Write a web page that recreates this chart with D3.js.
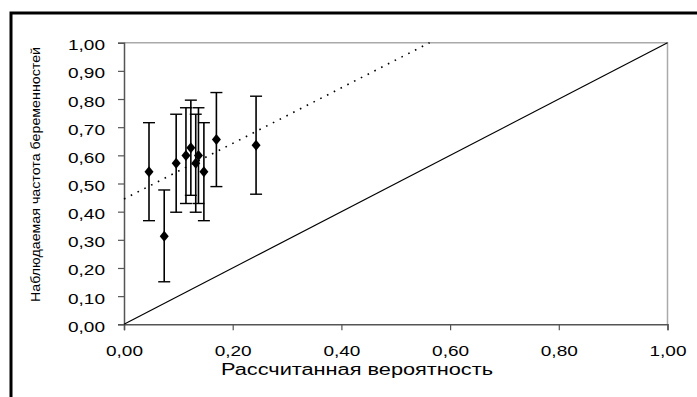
<!DOCTYPE html>
<html>
<head>
<meta charset="utf-8">
<script src="https://cdn.jsdelivr.net/npm/d3@7"></script>
<style>
  body { margin: 0; background: #fff; }
  svg { display: block; }
  text { font-family: "Liberation Sans", Arial, sans-serif; fill: #000; }
</style>
</head>
<body>
<svg width="697" height="397"></svg>
<script>
// **** data ****
var calcProb = [0.046, 0.074, 0.096, 0.114, 0.123, 0.132, 0.137, 0.147, 0.170, 0.243];
var observed = [0.542, 0.313, 0.572, 0.599, 0.627, 0.572, 0.599, 0.542, 0.656, 0.636];
var lowerCI  = [0.368, 0.151, 0.398, 0.429, 0.458, 0.398, 0.429, 0.368, 0.489, 0.462];
var upperCI  = [0.716, 0.477, 0.746, 0.769, 0.796, 0.746, 0.769, 0.716, 0.823, 0.810];
var tickValues = [0, 0.1, 0.2, 0.3, 0.4, 0.5, 0.6, 0.7, 0.8, 0.9, 1.0];
var xTickValues = [0, 0.2, 0.4, 0.6, 0.8, 1.0];
// trend line: intercept and slope
var trendIntercept = 0.445;
var trendSlope = 0.987;

var fmt = function(d) { return d3.format(".2f")(d).replace(".", ","); };

var xScale = d3.scaleLinear().domain([0, 1]).range([124, 667.5]);
var yScale = d3.scaleLinear().domain([0, 1]).range([324.3, 42.7]);

var svg = d3.select('svg');

// outer frame (only left and top show in the picture)
svg.append('path')
    .attr('d', 'M11,397 V13 H697')
    .attr('fill', 'none')
    .attr('stroke', '#000')
    .attr('stroke-width', 3);

// top and right border of plot area
svg.append('path')
    .attr('d', 'M' + xScale(0) + ',' + yScale(1) + ' H' + xScale(1) + ' V' + yScale(0))
    .attr('fill', 'none')
    .attr('stroke', '#aaa')
    .attr('stroke-width', 1.5);

// axes
var yAxis = svg.append('g').attr('class', 'y axis')
    .attr('transform', 'translate(' + xScale(0) + ',0)')
    .call(d3.axisLeft(yScale).tickValues(tickValues).tickFormat(fmt).tickSize(6).tickPadding(13));
var xAxis = svg.append('g').attr('class', 'x axis')
    .attr('transform', 'translate(0,' + yScale(0) + ')')
    .call(d3.axisBottom(xScale).tickValues(xTickValues).tickFormat(fmt).tickSize(6).tickPadding(15));

svg.selectAll('.axis .domain').attr('stroke', '#555').attr('stroke-width', 1.5);
svg.selectAll('.axis .tick line').attr('stroke', '#555').attr('stroke-width', 1.2);
svg.selectAll('.axis text')
    .style('font-family', '"Liberation Sans", Arial, sans-serif')
    .attr('font-size', 15.5)
    .attr('fill', '#000')
    .attr('textLength', 37)
    .attr('lengthAdjust', 'spacingAndGlyphs');
xAxis.selectAll('text').attr('dy', '0.71em');
yAxis.selectAll('text').attr('dy', '0.45em');

// diagonal of perfect calibration
svg.append('line')
    .attr('x1', xScale(0)).attr('y1', yScale(0))
    .attr('x2', xScale(1)).attr('y2', yScale(1))
    .attr('stroke', '#000')
    .attr('stroke-width', 1.2);

// dotted trend line, clipped at the top border
var xEnd = (1 - trendIntercept) / trendSlope;
svg.append('line')
    .attr('x1', xScale(0)).attr('y1', yScale(trendIntercept))
    .attr('x2', xScale(xEnd)).attr('y2', yScale(1))
    .attr('stroke', '#000')
    .attr('stroke-width', 1.6)
    .attr('stroke-dasharray', '1.6,6');

// error bars
var bars = svg.append('g')
    .selectAll('g')
    .data(calcProb)
    .enter()
    .append('g');

bars.append('line')
    .attr('x1', function(d) { return xScale(d); })
    .attr('x2', function(d) { return xScale(d); })
    .attr('y1', function(d, i) { return yScale(lowerCI[i]); })
    .attr('y2', function(d, i) { return yScale(upperCI[i]); })
    .attr('stroke', '#000').attr('stroke-width', 1.6);
bars.append('line')
    .attr('x1', function(d) { return xScale(d) - 6; })
    .attr('x2', function(d) { return xScale(d) + 6; })
    .attr('y1', function(d, i) { return yScale(upperCI[i]); })
    .attr('y2', function(d, i) { return yScale(upperCI[i]); })
    .attr('stroke', '#000').attr('stroke-width', 1.4);
bars.append('line')
    .attr('x1', function(d) { return xScale(d) - 6; })
    .attr('x2', function(d) { return xScale(d) + 6; })
    .attr('y1', function(d, i) { return yScale(lowerCI[i]); })
    .attr('y2', function(d, i) { return yScale(lowerCI[i]); })
    .attr('stroke', '#000').attr('stroke-width', 1.4);

// diamond markers
svg.append('g')
    .selectAll('path')
    .data(calcProb)
    .enter()
    .append('path')
    .attr('d', 'M0,-5.5 L4.5,0 L0,5.5 L-4.5,0 Z')
    .attr('transform', function(d, i) {
        return 'translate(' + xScale(d) + ',' + yScale(observed[i]) + ')';
    })
    .attr('fill', '#000');

// axis titles
svg.append('text')
    .attr('x', 357).attr('y', 375)
    .attr('text-anchor', 'middle')
    .attr('font-size', 16)
    .attr('textLength', 272)
    .attr('lengthAdjust', 'spacingAndGlyphs')
    .text('Рассчитанная вероятность');

svg.append('text')
    .attr('transform', 'translate(40,174.5) rotate(-90)')
    .attr('text-anchor', 'middle')
    .attr('font-size', 12)
    .attr('textLength', 255)
    .attr('lengthAdjust', 'spacingAndGlyphs')
    .text('Наблюдаемая частота беременностей');
</script>
</body>
</html>
